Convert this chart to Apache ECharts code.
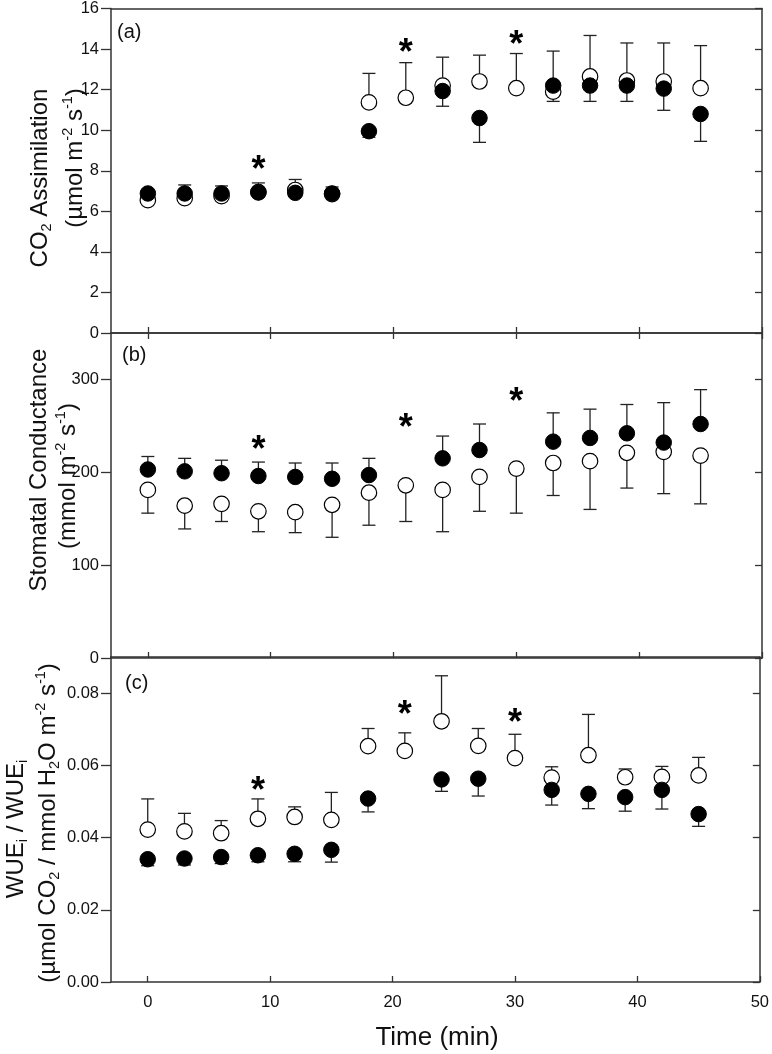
<!DOCTYPE html>
<html><head><meta charset="utf-8">
<script src="https://cdn.jsdelivr.net/npm/echarts@6/dist/echarts.min.js"></script>
<style>html,body{margin:0;padding:0;background:#fff}#c{width:772px;height:1054px}</style>
</head><body><div id="c"></div>
<script>
// ---- data ----
const times = [0,3,6,9,12,15,18,21,24,27,30,33,36,39,42,45];
const xTicks = [0,10,20,30,40,50];

// (a) CO2 assimilation
const aOpen    = [6.55,6.65,6.75,6.95,7.05,6.85,11.37,11.6,12.2,12.4,12.07,11.9,12.65,12.45,12.4,12.07];
const aOpenSE  = [0.15,0.65,0.5,0.45,0.52,0.35,1.43,1.73,1.4,1.3,1.71,2.0,2.02,1.85,1.9,2.1];
const aFill    = [6.88,6.88,6.88,6.93,6.91,6.88,9.95,null,11.93,10.6,null,12.2,12.2,12.2,12.05,10.8];
const aFillSE  = [0.15,0.15,0.15,0.15,0.15,0.15,0.3,null,0.75,1.2,null,0.78,0.78,0.78,1.07,1.35];
const aTicks   = [0,2,4,6,8,10,12,14,16];
const aStars   = [[9,8.35],[21,14.1],[30,14.5]];

// (b) stomatal conductance
const bOpen    = [181,164,166,158,157,165,178,186,181,195,204,210,212,221,222,218];
const bOpenSE  = [25,25,19,22,22,35,35,39,45,37,48,35,52,38,45,52];
const bFill    = [203,201,199,196,195,193,197,null,215,224,null,233,237,242,232,252];
const bFillSE  = [14,14,14,15,15,17,18,null,24,28,null,31,31,31,43,37];
const bTicks   = [0,100,200,300];
const bStars   = [[9,230],[21,254],[30,282]];

// (c) WUEi
const cOpen    = [0.0422,0.0417,0.0412,0.0452,0.0457,0.0449,0.0653,0.0640,0.0722,0.0654,0.0620,0.0566,0.0628,0.0567,0.0568,0.0572];
const cOpenSE  = [0.0085,0.0050,0.0035,0.0055,0.0028,0.0076,0.0049,0.0050,0.0126,0.0048,0.0066,0.0030,0.0113,0.0023,0.0029,0.0050];
const cFill    = [0.0340,0.0342,0.0346,0.0351,0.0355,0.0366,0.0508,null,0.0561,0.0563,null,0.0532,0.0521,0.0512,0.0532,0.0465];
const cFillSE  = [0.0018,0.0018,0.0018,0.0018,0.0022,0.0034,0.0037,null,0.0033,0.0048,null,0.0042,0.0041,0.0039,0.0053,0.0034];
const cTicks   = [0,0.02,0.04,0.06,0.08];
const cStars   = [[9,0.0545],[21,0.0757],[30,0.0734]];

// ---- chart ----
const FONT = '"Liberation Sans", Arial, Helvetica, sans-serif';
const LINE = '#333';
const chart = echarts.init(document.getElementById('c'), null, {renderer:'canvas'});
const L = 111, W = 651, H = 325;
const tops = [8, 333, 657];
const yCfg = [
  {min:0, max:16, ticks:aTicks, fmt:v=>String(v)},
  {min:0, max:350, ticks:bTicks, fmt:v=>String(v)},
  {min:0, max:0.09, ticks:cTicks, fmt:v=>v.toFixed(2)}
];

const grid = tops.map(t => ({left:L, top:t, width:W, height:H, show:false}));
const xAxis = [], yAxis = [];
tops.forEach((t,i) => {
  xAxis.push({gridIndex:i, type:'value', min:-3, max:50, position:'bottom',
    axisLine:{show:true, onZero:false, lineStyle:{color:LINE, width:1.5}},
    axisTick:{show:true, inside:true, length:6, customValues:xTicks, lineStyle:{color:LINE, width:1.3}},
    axisLabel:{show:i===2, customValues:xTicks, margin:12, fontSize:16.5, color:'#111', fontFamily:FONT},
    splitLine:{show:false}});
  xAxis.push({gridIndex:i, type:'value', min:-3, max:50, position:'top',
    axisLine:{show:true, onZero:false, lineStyle:{color:LINE, width:1.5}},
    axisTick:{show:i===1, inside:true, length:6, customValues:xTicks, lineStyle:{color:LINE, width:1.3}},
    axisLabel:{show:false}, splitLine:{show:false}});
  const c = yCfg[i];
  yAxis.push({gridIndex:i, type:'value', min:c.min, max:c.max, position:'left',
    axisLine:{show:true, onZero:false, lineStyle:{color:LINE, width:1.5}},
    axisTick:{show:true, inside:false, length:10, customValues:c.ticks, lineStyle:{color:LINE, width:1.3}},
    axisLabel:{show:true, customValues:c.ticks, formatter:c.fmt, margin:12, fontSize:16.5, color:'#111', fontFamily:FONT},
    splitLine:{show:false}});
  yAxis.push({gridIndex:i, type:'value', min:c.min, max:c.max, position:'right',
    axisLine:{show:true, onZero:false, lineStyle:{color:LINE, width:1.5}},
    axisTick:{show:true, inside:true, length:7, customValues:c.ticks, lineStyle:{color:LINE, width:1.3}},
    axisLabel:{show:false}, splitLine:{show:false}});
});

function errSeries(i, means, ses, dir) {
  const data = [];
  times.forEach((t,k) => { if (means[k] != null && ses[k] != null) data.push([t, means[k], means[k] + dir*ses[k]]); });
  return {type:'custom', xAxisIndex:i*2, yAxisIndex:i*2, z:2, silent:true, data,
    encode:{x:0, y:[1,2]},
    renderItem(params, api) {
      const p0 = api.coord([api.value(0), api.value(1)]);
      const p1 = api.coord([api.value(0), api.value(2)]);
      const hw = 6.5;
      return {type:'group', children:[
        {type:'line', shape:{x1:p0[0], y1:p0[1], x2:p1[0], y2:p1[1]}, style:{stroke:'#222', lineWidth:1.3}},
        {type:'line', shape:{x1:p1[0]-hw, y1:p1[1], x2:p1[0]+hw, y2:p1[1]}, style:{stroke:'#222', lineWidth:1.3}}
      ]};
    }};
}
function pts(means) { const d = []; times.forEach((t,k)=>{ if (means[k]!=null) d.push([t, means[k]]); }); return d; }
function scat(i, means, filled) {
  return {type:'scatter', xAxisIndex:i*2, yAxisIndex:i*2, z: filled ? 4 : 3, silent:true,
    symbol:'circle', symbolSize:15.5, data:pts(means),
    itemStyle: filled ? {color:'#000', borderColor:'#000', borderWidth:1, opacity:1}
                      : {color:'#fff', borderColor:'#000', borderWidth:1.2, opacity:1}};
}
function stars(i, arr) {
  return {type:'custom', xAxisIndex:i*2, yAxisIndex:i*2, z:5, silent:true, data:arr,
    renderItem(params, api) {
      const p = api.coord([api.value(0), api.value(1)]);
      return {type:'text', x:p[0], y:p[1]+7, style:{text:'*', fontSize:36, fontWeight:'bold', fontFamily:FONT, fill:'#000', align:'center', verticalAlign:'middle'}};
    }};
}

const series = [
  errSeries(0, aOpen, aOpenSE, 1), errSeries(0, aFill, aFillSE, -1), scat(0, aOpen, false), scat(0, aFill, true), stars(0, aStars),
  errSeries(1, bOpen, bOpenSE, -1), errSeries(1, bFill, bFillSE, 1), scat(1, bOpen, false), scat(1, bFill, true), stars(1, bStars),
  errSeries(2, cOpen, cOpenSE, 1), errSeries(2, cFill, cFillSE, -1), scat(2, cOpen, false), scat(2, cFill, true), stars(2, cStars)
];

const TF = 24;
const rich = {
  n:{fontSize:TF, fontFamily:FONT, color:'#111', lineHeight:29},
  sub:{fontSize:14.5, fontFamily:FONT, color:'#111', lineHeight:16, verticalAlign:'bottom'},
  sup:{fontSize:14.5, fontFamily:FONT, color:'#111', lineHeight:16, verticalAlign:'top'}
};
function title(x, y, text) {
  return {type:'text', x, y, rotation:Math.PI/2, silent:true,
    style:{text, rich, align:'center', verticalAlign:'middle', fontFamily:FONT, fontSize:TF, fill:'#111'}};
}
function panelTag(x, y, t) {
  return {type:'text', x, y, silent:true, style:{text:t, fontFamily:FONT, fontSize:20, fill:'#111', align:'left', verticalAlign:'middle'}};
}

const graphic = [
  title(40, 178, '{n|CO}{sub|2}{n| Assimilation}'),
  title(75, 158, '{n|(µmol m}{sup|-2}{n| s}{sup|-1}{n|)}'),
  title(39, 470, '{n|Stomatal Conductance}'),
  title(68, 476, '{n|(mmol m}{sup|-2}{n| s}{sup|-1}{n|)}'),
  title(16, 829, '{n|WUE}{sub|i}{n| / WUE}{sub|i}'),
  title(48, 823, '{n|(µmol CO}{sub|2}{n| / mmol H}{sub|2}{n|O m}{sup|-2}{n| s}{sup|-1}{n|)}'),
  panelTag(117, 32, '(a)'),
  panelTag(122, 355, '(b)'),
  panelTag(125, 683, '(c)'),
  {type:'text', x:437, y:1038, silent:true, style:{text:'Time (min)', fontFamily:FONT, fontSize:26, fill:'#111', align:'center', verticalAlign:'middle'}}
];

chart.setOption({animation:false, backgroundColor:'#fff', grid, xAxis, yAxis, series, graphic});
</script>
</body></html>
